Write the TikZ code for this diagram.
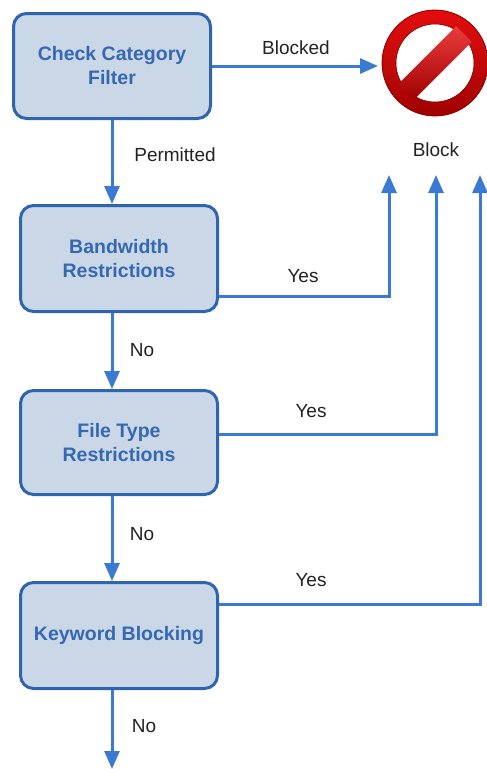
\documentclass[tikz,border=0pt]{standalone}
\usepackage{fontspec}
\setmainfont{Liberation Sans}
\usetikzlibrary{arrows.meta,positioning,calc}
\definecolor{linecol}{HTML}{3A7AD4}
\definecolor{boxline}{HTML}{2F65B0}
\definecolor{boxfill}{HTML}{C9D7E7}
\definecolor{boxtext}{HTML}{3668B2}
\definecolor{labtext}{HTML}{222222}
\definecolor{stopdark}{HTML}{A00000}
\definecolor{stopred}{HTML}{E40C0C}
\tikzset{
  flowbox/.style={draw=boxline, line width=3pt, fill=boxfill, rounded corners=13pt,
    minimum width=197pt, inner sep=0pt, align=center, text=boxtext,
    font=\fontsize{19.5}{24}\selectfont\bfseries},
  conn/.style={draw=linecol, line width=3pt,
    -{Triangle[width=15pt,length=18pt]}},
  lab/.style={text=labtext, font=\fontsize{19}{23}\selectfont, inner sep=0pt}
}
\begin{document}
\begin{tikzpicture}[x=1pt,y=-1pt]
\useasboundingbox (0,0) rectangle (487,769);
% boxes
\node[flowbox, minimum height=105pt] (b1) at (112,66) {Check Category\\Filter};
\node[flowbox, minimum height=106pt] (b2) at (119,258.5) {Bandwidth\\Restrictions};
\node[flowbox, minimum height=104pt] (b3) at (119,442.5) {File Type\\Restrictions};
\node[flowbox, minimum height=106pt] (b4) at (119,635.5) {Keyword Blocking};
% stop sign
\node[circle, minimum size=106pt, inner sep=0pt] (stop) at (435,63) {};
\shade[top color=stopred, bottom color=stopdark, middle color=stopred!85!black, even odd rule]
  (stop.center) circle (53) (stop.center) circle (39);
\draw[stopdark!85!black, line width=0.8pt] (stop.center) circle (53);
\draw[stopdark!80!black, line width=0.6pt] (stop.center) circle (39);
\begin{scope}[shift={(stop.center)}, rotate=45]
  \shade[top color=stopred!80!white, bottom color=stopdark]
    (-41,-11) rectangle (41,11);
\end{scope}
\coordinate (stopin) at (378,66);
\coordinate (t1) at (389,175);
\coordinate (t2) at (436,175);
\coordinate (t3) at (480,175);
\coordinate (endb) at (112,769);
% connectors
\draw[conn] (b1.east) -- (stopin);
\draw[conn] (b1.south) -- (b1.south |- b2.north);
\draw[conn] (b1.south |- b2.south) -- (b1.south |- b3.north);
\draw[conn] (b1.south |- b3.south) -- (b1.south |- b4.north);
\draw[conn] (b1.south |- b4.south) -- (endb);
\draw[conn] ([yshift=-37.5pt]b2.east) -| (t1);
\draw[conn] ([yshift=8.5pt]b3.east) -| (t2);
\draw[conn] ([yshift=31.5pt]b4.east) -| (t3);
% labels
\node[lab] (lblocked) at (296,48) {Blocked};
\node[lab] (lblock) at (436,150) {Block};
\node[lab] (lperm) at (175,155) {Permitted};
\node[lab] (lyes1) at (303,276) {Yes};
\node[lab] (lyes2) at (311,411) {Yes};
\node[lab] (lyes3) at (311,580) {Yes};
\node[lab] (lno1) at (142,350) {No};
\node[lab] (lno2) at (142,534) {No};
\node[lab] (lno3) at (144,726) {No};
\end{tikzpicture}
\end{document}
